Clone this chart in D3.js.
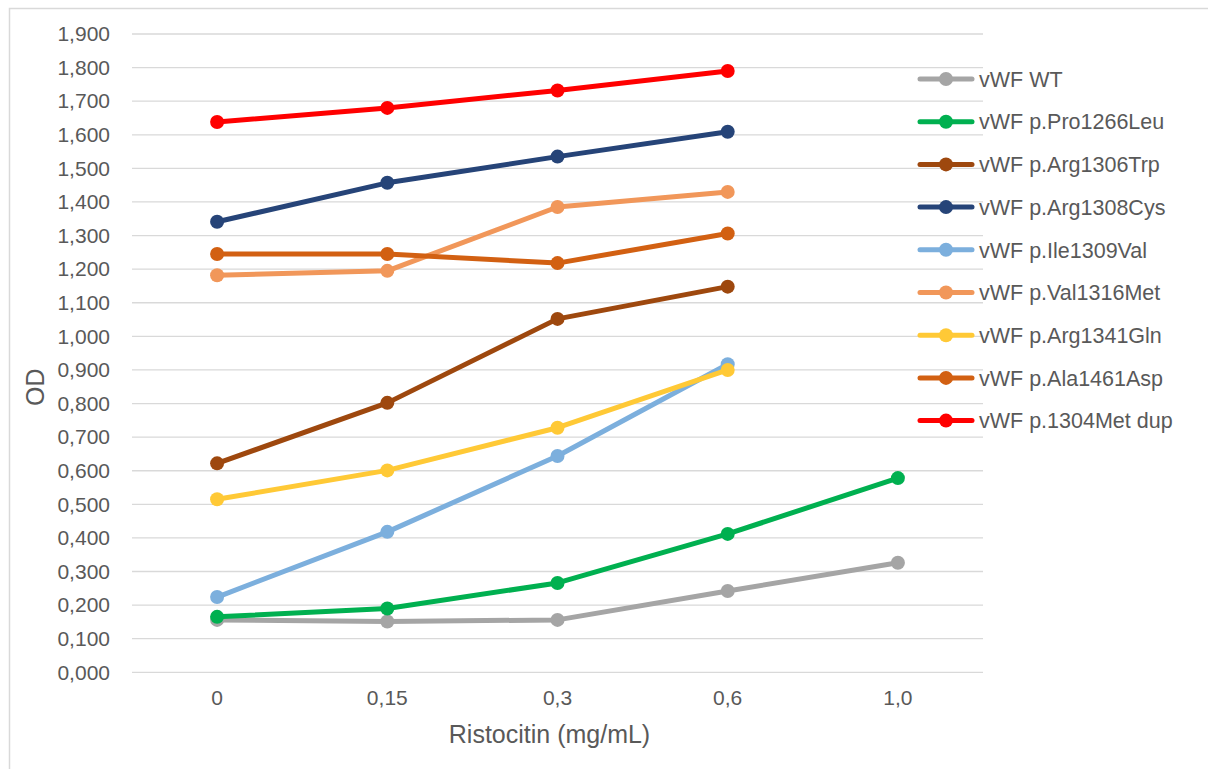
<!DOCTYPE html>
<html>
<head>
<meta charset="utf-8">
<script src="https://cdn.jsdelivr.net/npm/d3@7/dist/d3.min.js"></script>
<style>
  html, body { margin: 0; padding: 0; background: #fff; }
  svg { display: block; font-family: "Liberation Sans", Arial, sans-serif; }
</style>
</head>
<body>
<svg id="chart" width="1208" height="769"></svg>
<script>
// Ristocetin concentrations (x categories)
const categories = ["0", "0,15", "0,3", "0,6", "1,0"];

// Series names, in drawing order
const seriesNames = [
  "vWF WT",
  "vWF p.Pro1266Leu",
  "vWF p.Arg1306Trp",
  "vWF p.Arg1308Cys",
  "vWF p.Ile1309Val",
  "vWF p.Val1316Met",
  "vWF p.Arg1341Gln",
  "vWF p.Ala1461Asp",
  "vWF p.1304Met dup"
];

// OD readings per series (null = not measured)
const wt       = [0.156, 0.151, 0.156, 0.242, 0.326];
const pro1266  = [0.165, 0.190, 0.266, 0.412, 0.578];
const arg1306  = [0.622, 0.802, 1.052, 1.148, null];
const arg1308  = [1.341, 1.457, 1.535, 1.609, null];
const ile1309  = [0.224, 0.418, 0.644, 0.917, null];
const val1316  = [1.182, 1.195, 1.385, 1.430, null];
const arg1341  = [0.515, 0.601, 0.728, 0.900, null];
const ala1461  = [1.245, 1.245, 1.218, 1.306, null];
const met1304  = [1.638, 1.680, 1.732, 1.790, null];

const seriesValues = [wt, pro1266, arg1306, arg1308, ile1309, val1316, arg1341, ala1461, met1304];

const seriesColors = ["#a5a5a5", "#00b050", "#9e480e", "#264478", "#7cafdd",
                      "#f1975a", "#ffc936", "#d26012", "#ff0000"];

// Y axis ticks 0.0 .. 1.9
const yTicks = d3.range(0, 20).map(i => i / 10);

const svg = d3.select("#chart");
const W = 1208, H = 769;

// outer chart frame
svg.append("rect")
  .attr("x", 9.5).attr("y", 8.5)
  .attr("width", W + 20).attr("height", H + 20)
  .attr("fill", "#fff").attr("stroke", "#d9d9d9").attr("stroke-width", 1.5);

const plot = { left: 132, right: 983, top: 34, bottom: 672.3 };

const x = d3.scaleBand()
  .domain(categories)
  .range([plot.left, plot.right]);

const y = d3.scaleLinear()
  .domain([0, 1.9])
  .range([plot.bottom, plot.top]);

const fmt = v => d3.format(".3f")(v).replace(".", ",");

// gridlines
svg.append("g")
  .selectAll("line")
  .data(yTicks)
  .join("line")
  .attr("x1", plot.left).attr("x2", plot.right)
  .attr("y1", d => y(d)).attr("y2", d => y(d))
  .attr("stroke", "#d9d9d9").attr("stroke-width", 1.3);

// y axis labels
const yAxis = svg.append("g")
  .attr("transform", `translate(${plot.left - 22},0)`)
  .call(d3.axisLeft(y).tickValues(yTicks).tickFormat(fmt).tickSize(0).tickPadding(0));
yAxis.select(".domain").remove();
yAxis.selectAll("text")
  .attr("fill", "#595959")
  .style("font-size", "21px")
  .style("font-family", "'Liberation Sans', Arial, sans-serif");

// x axis labels
const xAxis = svg.append("g")
  .attr("transform", `translate(0,${plot.bottom})`)
  .call(d3.axisBottom(x).tickSize(0).tickPadding(18));
xAxis.select(".domain").remove();
xAxis.selectAll("text")
  .attr("fill", "#595959")
  .style("font-size", "21px")
  .style("font-family", "'Liberation Sans', Arial, sans-serif");

// axis titles
svg.append("text")
  .attr("x", (plot.left + plot.right) / 2 - 8)
  .attr("y", 743)
  .attr("text-anchor", "middle")
  .attr("fill", "#595959")
  .style("font-size", "25px")
  .text("Ristocitin (mg/mL)");

svg.append("text")
  .attr("transform", `translate(44,${(plot.top + plot.bottom) / 2 + 34}) rotate(-90)`)
  .attr("text-anchor", "middle")
  .attr("fill", "#595959")
  .style("font-size", "25px")
  .text("OD");

const cx = c => x(c) + x.bandwidth() / 2;

const line = d3.line()
  .defined(d => d.v !== null)
  .x(d => cx(d.c))
  .y(d => y(d.v));

// series lines and markers
seriesValues.forEach((vals, i) => {
  const pts = vals.map((v, j) => ({ c: categories[j], v }));
  const g = svg.append("g");
  g.append("path")
    .datum(pts)
    .attr("d", line)
    .attr("fill", "none")
    .attr("stroke", seriesColors[i])
    .attr("stroke-width", 5)
    .attr("stroke-linejoin", "round")
    .attr("stroke-linecap", "round");
  g.selectAll("circle")
    .data(pts.filter(d => d.v !== null))
    .join("circle")
    .attr("cx", d => cx(d.c))
    .attr("cy", d => y(d.v))
    .attr("r", 7)
    .attr("fill", seriesColors[i]);
});

// legend
const legend = svg.append("g").attr("transform", "translate(918,79)");
const rowH = 42.7;
seriesNames.forEach((name, i) => {
  const row = legend.append("g").attr("transform", `translate(0,${i * rowH})`);
  row.append("line")
    .attr("x1", 2).attr("x2", 54)
    .attr("y1", 0).attr("y2", 0)
    .attr("stroke", seriesColors[i])
    .attr("stroke-width", 5)
    .attr("stroke-linecap", "round");
  row.append("circle")
    .attr("cx", 28).attr("cy", 0).attr("r", 7)
    .attr("fill", seriesColors[i]);
  row.append("text")
    .attr("x", 61).attr("y", 0)
    .attr("dy", "0.36em")
    .attr("fill", "#595959")
    .style("font-size", "21.5px")
    .text(name);
});
</script>
</body>
</html>
